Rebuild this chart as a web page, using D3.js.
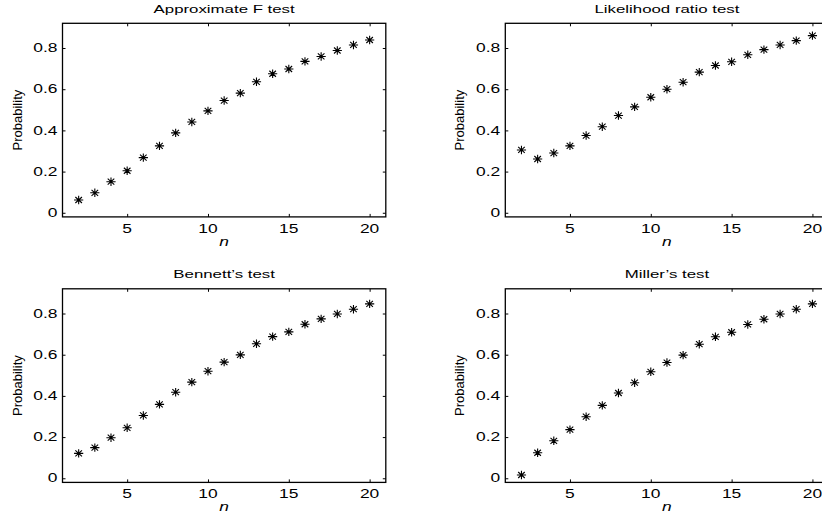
<!DOCTYPE html>
<html>
<head>
<meta charset="utf-8">
<script src="https://cdn.jsdelivr.net/npm/d3@7"></script>
<style>
html, body { margin: 0; padding: 0; background: #fff; overflow: hidden; }
svg { display: block; overflow: hidden; }
svg text { font-family: "Liberation Sans", Arial, Helvetica, sans-serif; fill: #000; }
</style>
</head>
<body>
<div id="chart"></div>
<script>
// Sample sizes on the x axis
const nValues = [2, 3, 4, 5, 6, 7, 8, 9, 10, 11, 12, 13, 14, 15, 16, 17, 18, 19, 20];

// Probability for each test
const approxF = [0.062, 0.097, 0.151, 0.204, 0.268, 0.325, 0.388, 0.441, 0.495, 0.545, 0.581, 0.636, 0.675, 0.698, 0.735, 0.759, 0.788, 0.815, 0.839];
const likelihoodRatio = [0.305, 0.261, 0.290, 0.325, 0.375, 0.418, 0.472, 0.514, 0.561, 0.600, 0.634, 0.683, 0.715, 0.733, 0.767, 0.792, 0.815, 0.836, 0.860];
const bennett = [0.121, 0.149, 0.197, 0.245, 0.305, 0.359, 0.418, 0.467, 0.520, 0.564, 0.599, 0.653, 0.688, 0.711, 0.748, 0.774, 0.798, 0.821, 0.847];
const miller = [0.016, 0.124, 0.182, 0.236, 0.299, 0.354, 0.414, 0.464, 0.517, 0.562, 0.598, 0.651, 0.687, 0.709, 0.747, 0.772, 0.798, 0.821, 0.847];

const xTicks = [5, 10, 15, 20];
const yTicks = [0, 0.2, 0.4, 0.6, 0.8];
const xDomain = [1, 21];
const yDomain = [-0.02, 0.92];
const panelTitles = ['Approximate F test', 'Likelihood ratio test', 'Bennett\u2019s test', 'Miller\u2019s test'];
const yLabel = 'Probability';
const xLabel = 'n';

const width = 822;
const height = 519;
const stretch = 1.45; // the original text is drawn wide

const innerWidth = 323.3;
const innerHeight = 193.6;
const panelPos = [
    { left: 62.5, top: 23.3 },
    { left: 505.3, top: 23.3 },
    { left: 62.5, top: 288.8 },
    { left: 505.3, top: 288.8 }
];

const svg = d3.select('#chart')
    .append('svg')
    .attr('width', width)
    .attr('height', height);

const labels = svg.append('g').attr('class', 'labels');

// MATLAB style '*' marker: a plus and a cross
const asterisk = 'M-4.6,0H4.6M0,-4.2V4.2M-3.3,-3L3.3,3M-3.3,3L3.3,-3';

// widen a text along its baseline
function widen(sel)
{
    sel.each(function () {
        const w = this.getComputedTextLength();
        d3.select(this)
            .attr('textLength', w * stretch)
            .attr('lengthAdjust', 'spacingAndGlyphs');
    });
}

function addText(x, y, str, size, anchor)
{
    return labels.append('text')
        .attr('x', x)
        .attr('y', y)
        .attr('font-size', size)
        .attr('text-anchor', anchor)
        .text(str)
        .call(widen);
}

function createPanel(values, title, pos)
{
    const xScale = d3.scaleLinear().domain(xDomain).range([pos.left, pos.left + innerWidth]);
    const yScale = d3.scaleLinear().domain(yDomain).range([pos.top + innerHeight, pos.top]);
    const x0 = pos.left, x1 = pos.left + innerWidth;
    const y0 = pos.top + innerHeight, y1 = pos.top;

    // ticks on every side, pointing inward
    const chart = svg.append('g');
    chart.append('g')
        .attr('transform', `translate(0, ${y0})`)
        .call(d3.axisBottom(xScale).tickValues(xTicks).tickSizeInner(-3).tickSizeOuter(0).tickFormat(''));
    chart.append('g')
        .attr('transform', `translate(0, ${y1})`)
        .call(d3.axisTop(xScale).tickValues(xTicks).tickSizeInner(-3).tickSizeOuter(0).tickFormat(''));
    chart.append('g')
        .attr('transform', `translate(${x0}, 0)`)
        .call(d3.axisLeft(yScale).tickValues(yTicks).tickSizeInner(-3).tickSizeOuter(0).tickFormat(''));
    chart.append('g')
        .attr('transform', `translate(${x1}, 0)`)
        .call(d3.axisRight(yScale).tickValues(yTicks).tickSizeInner(-3).tickSizeOuter(0).tickFormat(''));
    chart.selectAll('.domain').remove();
    chart.selectAll('.tick text').remove();
    chart.selectAll('.tick line').attr('stroke', '#000');

    chart.append('rect')
        .attr('x', x0)
        .attr('y', y1)
        .attr('width', innerWidth)
        .attr('height', innerHeight)
        .attr('fill', 'none')
        .attr('stroke', '#000')
        .attr('stroke-width', 1.3);

    // tick labels
    xTicks.forEach(t => addText(xScale(t), y0 + 16, String(t), 12, 'middle'));
    yTicks.forEach(t => addText(x0 - 5, yScale(t) + 4.2, d3.format('~g')(t), 12, 'end'));

    // the points
    chart.selectAll('.pt')
        .data(nValues.map((n, i) => ({ n: n, p: values[i] })))
        .enter()
        .append('path')
        .attr('class', 'pt')
        .attr('d', asterisk)
        .attr('transform', d => `translate(${xScale(d.n)}, ${yScale(d.p)})`)
        .attr('fill', 'none')
        .attr('stroke', '#000')
        .attr('stroke-width', 1.1);

    // title and axis labels
    const cx = pos.left + innerWidth / 2;
    addText(cx, y1 - 10.5, title, 11.6, 'middle');
    addText(cx, y0 + 29, xLabel, 12, 'middle').attr('font-style', 'italic');

    labels.append('text')
        .attr('transform', `translate(${x0 - 41}, ${pos.top + innerHeight / 2}) rotate(-90)`)
        .attr('text-anchor', 'middle')
        .attr('font-size', 13)
        .text(yLabel);
}

const allSeries = [approxF, likelihoodRatio, bennett, miller];
allSeries.forEach((values, i) => createPanel(values, panelTitles[i], panelPos[i]));
</script>
</body>
</html>
